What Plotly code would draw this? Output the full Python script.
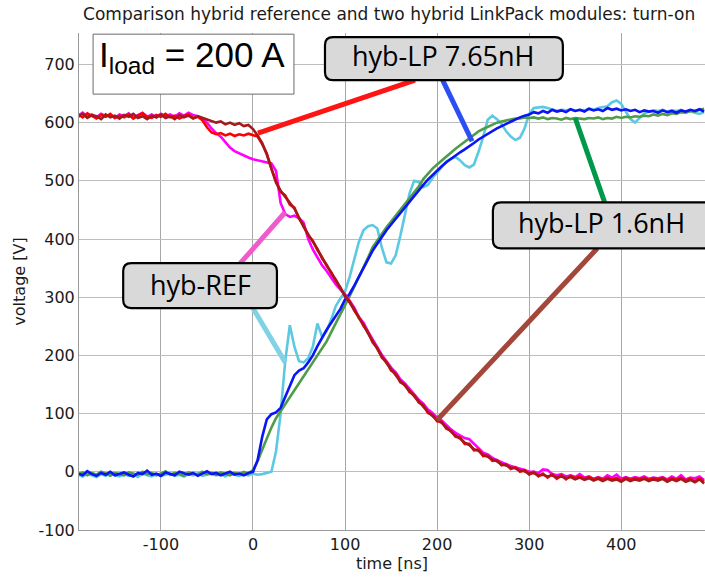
import plotly.graph_objects as go

# sampling grid of the scope traces (ns)
time_ns = list(range(-190, 491, 5))

# hyb-REF, rising voltage (light blue)
ref_rise = [
    -5, -8, -3, -6, -9, -4, -7, -2, -6, -8,
    -4, -7, -5, -9, -3, -6, -8, -4, -7, -5,
    -3, -7, -5, -8, -4, -6, -2, -7, -5, -3,
    -6, -4, -8, -3, -5, -7, -4, -6, -3, -5,
    -4, -2, 0, 35, 100, 190, 252, 215, 190, 188,
    195, 215, 255, 232, 242, 262, 285, 298, 310, 335,
    365, 395, 415, 422, 424, 418, 385, 360, 358, 372,
    405, 440, 478, 500, 498, 489, 493, 505, 515, 525,
    533, 538, 541, 535, 527, 523, 528, 550, 575, 605,
    612, 606, 598, 585, 576, 570, 574, 590, 615, 625,
    626, 627, 625, 622, 620, 622, 621, 623, 620, 622,
    621, 624, 622, 625, 626, 628, 635, 638, 632, 620,
    606, 600, 608, 616, 619, 621, 620, 622, 619, 621,
    620, 622, 618, 620, 617, 615, 618,
]

# hyb-LP 7.65nH, rising voltage (blue)
lp765_rise = [
    -3, -6, 1, -4, -7, -2, -5, 0, -6, -3,
    -1, -5, -8, -2, -4, 2, -5, -3, -7, -1,
    -4, -6, 0, -3, -5, -2, -7, -3, 1, -4,
    -2, -6, -3, 0, -5, -3, -6, -2, 0, 20,
    60, 90, 99, 102, 110, 128, 148, 166, 174, 178,
    188, 200, 216, 231, 244, 256, 268, 280, 296, 306,
    320, 335, 350, 365, 380, 392, 404, 415, 425, 435,
    444, 454, 464, 474, 484, 493, 502, 510, 518, 525,
    532, 538, 543, 549, 554, 559, 565, 571, 576, 581,
    586, 590, 594, 598, 602, 606, 609, 612, 614, 618,
    616, 620, 617, 622, 619, 621, 618, 623, 620, 622,
    619, 624, 621, 623, 620, 625, 622, 624, 621, 623,
    620, 622, 618, 621, 619, 620, 617, 621, 618, 620,
    617, 621, 619, 622, 620, 623, 619,
]

# hyb-LP 1.6nH, rising voltage (green)
lp16_rise = [
    -4, -1, -6, -2, -5, 0, -3, -7, -2, -4,
    -6, -1, -3, -5, 0, -4, -2, -6, -3, 1,
    -5, -2, -4, -7, -1, -3, -5, 0, -4, -2,
    -5, -1, -3, -6, -2, -4, 0, -3, 3, 18,
    38, 58, 76, 92, 104, 116, 128, 140, 152, 164,
    176, 188, 200, 212, 224, 240, 255, 270, 287, 302,
    318, 334, 351, 368, 386, 398, 410, 420, 430, 440,
    450, 460, 470, 480, 490, 503, 513, 521, 528, 535,
    541, 548, 555, 561, 567, 573, 579, 585, 589, 593,
    597, 600, 602, 604, 606, 607, 607, 609, 608, 609,
    607, 609, 606, 608, 607, 605, 608, 606, 608, 607,
    606, 608, 607, 609, 606, 608, 607, 610, 608, 610,
    609, 611, 610, 612, 611, 614, 612, 615, 613, 616,
    615, 618, 617, 620, 619, 622, 624,
]

# hyb-REF, falling voltage (magenta)
ref_fall = [
    612, 617, 610, 614, 609, 615, 611, 613, 608, 614,
    611, 616, 609, 613, 617, 610, 614, 609, 615, 611,
    614, 610, 616, 612, 617, 613, 611, 607, 600, 590,
    582, 576, 566, 557, 551, 547, 543, 540, 537, 535,
    533, 531, 530, 517, 462, 443, 438, 440, 436, 428,
    400, 382, 369, 355, 345, 333, 322, 313, 305, 294,
    282, 266, 256, 241, 227, 214, 201, 190, 179, 171,
    159, 152, 142, 134, 124, 117, 107, 101, 93, 88,
    80, 73, 67, 63, 58, 56, 48, 41, 33, 30,
    24, 20, 16, 13, 10, 8, 5, 3, 0, 0,
    -2, 4, 3, -4, -6, -4, -8, -6, -9, -4,
    -10, -8, -12, -9, -12, -6, -10, -5, -12, -9,
    -12, -9, -11, -8, -12, -10, -11, -9, -13, -8,
    -12, -6, -13, -10, -11, -8, -14,
]

# hyb-LP 7.65nH, falling voltage (red)
lp765_fall = [
    614, 609, 616, 611, 607, 613, 610, 615, 608, 612,
    609, 614, 607, 612, 616, 610, 608, 613, 610, 615,
    609, 612, 607, 611, 614, 608, 610, 604, 592, 583,
    580, 582, 578, 581, 577, 580, 578, 581, 579, 576,
    563, 547, 521, 499, 481, 475, 459, 454, 435, 423,
    406, 397, 381, 369, 354, 343, 328, 317, 301, 293,
    277, 266, 251, 240, 222, 213, 196, 189, 174, 169,
    154, 150, 137, 132, 119, 115, 101, 98, 87, 86,
    74, 71, 60, 59, 48, 48, 37, 38, 27, 28,
    19, 20, 11, 13, 5, 8, 0, 3, -5, 0,
    -8, -3, -10, -4, -12, -6, -13, -7, -11, -8,
    -12, -9, -13, -10, -14, -10, -13, -11, -15, -10,
    -14, -11, -13, -10, -14, -11, -13, -10, -15, -11,
    -14, -10, -15, -12, -16, -11, -17,
]

# hyb-LP 1.6nH, falling voltage (dark red)
lp16_fall = [
    610, 615, 608, 613, 611, 606, 614, 609, 612, 607,
    613, 610, 615, 608, 611, 606, 612, 609, 614, 608,
    611, 606, 613, 609, 612, 607, 611, 608, 605, 603,
    600, 602, 597, 600, 596, 599, 594, 596, 589, 578,
    565, 545, 519, 497, 483, 473, 461, 452, 437, 421,
    408, 395, 383, 367, 356, 341, 330, 315, 303, 291,
    279, 264, 253, 238, 224, 211, 198, 187, 176, 167,
    156, 148, 139, 130, 121, 113, 103, 96, 89, 84,
    76, 69, 62, 57, 50, 46, 39, 36, 29, 26,
    21, 18, 13, 11, 7, 6, 2, 1, -3, -2,
    -6, -5, -8, -6, -10, -8, -11, -9, -13, -10,
    -14, -11, -15, -12, -16, -12, -15, -13, -17, -12,
    -16, -13, -15, -12, -16, -13, -15, -12, -17, -13,
    -16, -12, -17, -14, -18, -13, -20,
]

x_ticks = [-100, 0, 100, 200, 300, 400]
x_tick_labels = ["-100", "0", "100", "200", "300", "400"]
y_ticks = [-100, 0, 100, 200, 300, 400, 500, 600, 700]
y_tick_labels = ["-100", "0", "100", "200", "300", "400", "500", "600", "700"]

title_text = "Comparison hybrid reference and two hybrid LinkPack modules: turn-on"
x_title = "time [ns]"
y_title = "voltage [V]"

series = [
    ("hyb-REF rise", ref_rise, "#5cc8e2"),
    ("hyb-LP 1.6nH rise", lp16_rise, "#4f9c49"),
    ("hyb-LP 7.65nH rise", lp765_rise, "#0a14f5"),
    ("hyb-REF fall", ref_fall, "#ff00ff"),
    ("hyb-LP 7.65nH fall", lp765_fall, "#ff0000"),
    ("hyb-LP 1.6nH fall", lp16_fall, "#a3191c"),
]

fig = go.Figure()
for name, vals, col in series:
    fig.add_trace(go.Scatter(x=time_ns, y=vals, mode="lines", name=name,
                             line=dict(color=col, width=2.6), showlegend=False))

AX_FONT = dict(family="DejaVu Sans", size=16, color="#1a1a1a")

fig.update_layout(
    width=705, height=579,
    margin=dict(l=79, r=0, t=33, b=49),
    plot_bgcolor="white", paper_bgcolor="white",
    title=dict(text=title_text, x=0.552, xref="container", xanchor="center",
               y=0.976, yref="container", yanchor="middle",
               font=dict(family="DejaVu Sans", size=17, color="#1a1a1a")),
    xaxis=dict(range=[-189, 491], tickvals=x_ticks, ticktext=x_tick_labels,
               showgrid=True, gridcolor="#a8a8a8", gridwidth=1, zeroline=False,
               showline=True, linecolor="#9a9a9a", linewidth=1,
               ticks="", tickfont=AX_FONT, automargin=False,
               title=dict(text=x_title, font=AX_FONT, standoff=3)),
    yaxis=dict(range=[-100, 754], tickvals=y_ticks, ticktext=y_tick_labels,
               showgrid=True, gridcolor="#bdbdbd", gridwidth=1, zeroline=False,
               showline=True, linecolor="#9a9a9a", linewidth=1,
               ticks="", tickfont=AX_FONT, automargin=False,
               title=dict(text=y_title, font=AX_FONT, standoff=8)),
)


def rounded_box(x0, x1, y0, y1, rx=8.7, ry=13.7):
    return (f"M {x0+rx},{y0} L {x1-rx},{y0} Q {x1},{y0} {x1},{y0+ry} "
            f"L {x1},{y1-ry} Q {x1},{y1} {x1-rx},{y1} L {x0+rx},{y1} "
            f"Q {x0},{y1} {x0},{y1-ry} L {x0},{y0+ry} Q {x0},{y0} {x0+rx},{y0} Z")


# connector lines (label -> curve)
connectors = [
    ((5.4, 582), (176, 673), "#ff1414"),
    ((238, 568), (206, 673), "#2b4ff0"),
    ((382, 463), (350, 608), "#00994a"),
    ((200, 89), (374, 384), "#a3473a"),
    ((35, 446), (-14, 358), "#ee5ccc"),
    ((35, 188), (0, 281), "#80d2e4"),
]
for (xa, ya), (xb, yb), col in connectors:
    fig.add_shape(type="line", x0=xa, y0=ya, x1=xb, y1=yb, xref="x", yref="y",
                  line=dict(color=col, width=5), layer="above")

# label boxes
boxes = [
    (78.2, 336.6, 673, 747, "hyb-LP 7.65nH", 207.4, 716),
    (260.6, 520, 384, 463, "hyb-LP 1.6nH", 379, 428),
    (-141, 26, 281.3, 358.6, "hyb-REF", -57.5, 322),
]
for x0, x1, y0, y1, txt, tx, ty in boxes:
    fig.add_shape(type="path", path=rounded_box(x0, x1, y0, y1), xref="x", yref="y",
                  fillcolor="#d9d9d9", line=dict(color="black", width=2.2), layer="above")
    fig.add_annotation(x=tx, y=ty, xref="x", yref="y", text=txt, showarrow=False,
                       xanchor="center", yanchor="middle",
                       font=dict(family="Open Sans", size=27, color="black"))

# load current box
fig.add_shape(type="rect", x0=-173.7, x1=44.5, y0=649, y1=752, xref="x", yref="y",
              fillcolor="white", line=dict(color="#6a6a6a", width=1), layer="above")
fig.add_annotation(x=-66, y=712, xref="x", yref="y",
                   text="I<sub>load</sub> = 200 A", showarrow=False,
                   xanchor="center", yanchor="middle",
                   font=dict(family="Liberation Sans", size=35, color="black"))

fig.write_html("out.html", config={"displayModeBar": False},
               post_script="document.body.style.margin='0';document.body.style.padding='0';")
